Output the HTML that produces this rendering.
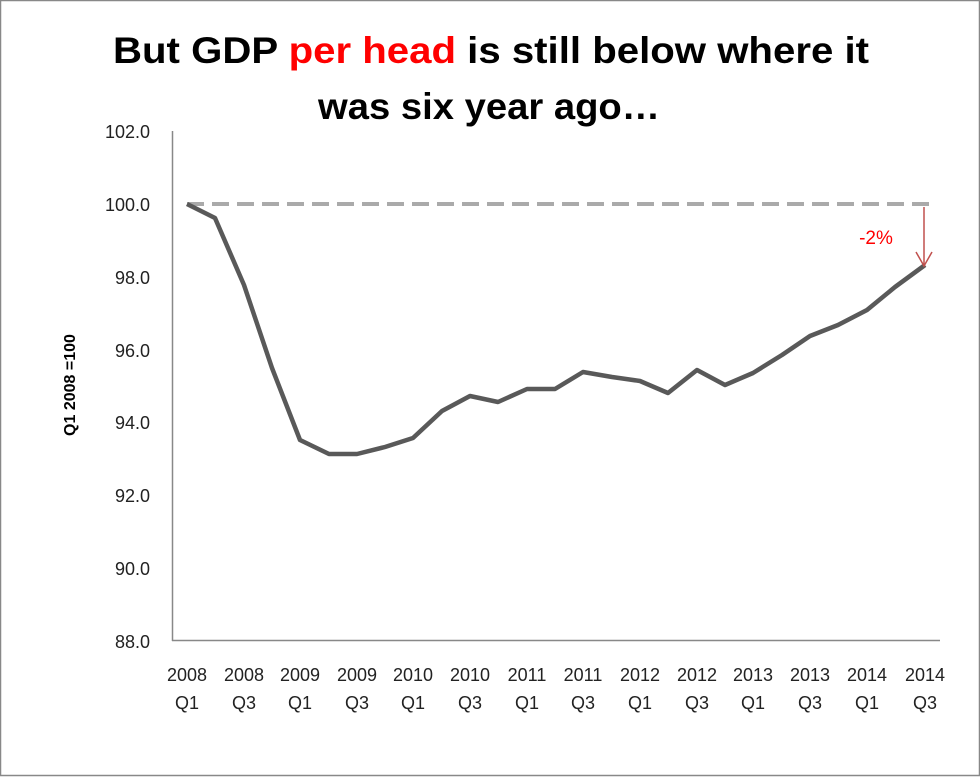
<!DOCTYPE html>
<html><head><meta charset="utf-8"><style>
body{margin:0;background:#fff;}
</style></head><body>
<svg width="980" height="777" xmlns="http://www.w3.org/2000/svg" style="display:block">
<rect x="0.5" y="0.5" width="979" height="775" fill="#fff" stroke="#888" stroke-width="1.5"/>
<g font-family="Liberation Sans, sans-serif" font-weight="bold" font-size="37" text-anchor="middle" fill="#000">
<text x="491" y="63" textLength="756" lengthAdjust="spacingAndGlyphs">But GDP <tspan fill="#ff0000">per head</tspan> is still below where it</text>
<text x="489" y="119" textLength="342" lengthAdjust="spacingAndGlyphs">was six year ago…</text>
</g>
<g font-family="Liberation Sans, sans-serif" font-size="18" text-anchor="end" fill="#222">
<text x="150" y="138">102.0</text>
<text x="150" y="211">100.0</text>
<text x="150" y="284">98.0</text>
<text x="150" y="357">96.0</text>
<text x="150" y="429">94.0</text>
<text x="150" y="502">92.0</text>
<text x="150" y="575">90.0</text>
<text x="150" y="648">88.0</text>
</g>
<text x="0" y="0" transform="translate(75,385) rotate(-90)" font-family="Liberation Sans, sans-serif" font-weight="bold" font-size="16" text-anchor="middle">Q1 2008 =100</text>
<line x1="172.5" y1="131" x2="172.5" y2="641" stroke="#888" stroke-width="1.5"/>
<line x1="172" y1="640.5" x2="940" y2="640.5" stroke="#888" stroke-width="1.5"/>
<g font-family="Liberation Sans, sans-serif" font-size="18" text-anchor="middle" fill="#222">
<text x="187" y="681">2008</text><text x="187" y="709">Q1</text>
<text x="244" y="681">2008</text><text x="244" y="709">Q3</text>
<text x="300" y="681">2009</text><text x="300" y="709">Q1</text>
<text x="357" y="681">2009</text><text x="357" y="709">Q3</text>
<text x="413" y="681">2010</text><text x="413" y="709">Q1</text>
<text x="470" y="681">2010</text><text x="470" y="709">Q3</text>
<text x="527" y="681">2011</text><text x="527" y="709">Q1</text>
<text x="583" y="681">2011</text><text x="583" y="709">Q3</text>
<text x="640" y="681">2012</text><text x="640" y="709">Q1</text>
<text x="697" y="681">2012</text><text x="697" y="709">Q3</text>
<text x="753" y="681">2013</text><text x="753" y="709">Q1</text>
<text x="810" y="681">2013</text><text x="810" y="709">Q3</text>
<text x="867" y="681">2014</text><text x="867" y="709">Q1</text>
<text x="925" y="681">2014</text><text x="925" y="709">Q3</text>
</g>
<line x1="187" y1="204" x2="930" y2="204" stroke="#aaa" stroke-width="4" stroke-dasharray="17,8"/>
<polyline fill="none" stroke="#595959" stroke-width="4.5" stroke-linejoin="round" points="187,204 215,218 244,285 272,368 300,440 329,454 357,454 385,447 413,438 442,411 470,396 498,402 527,389 555,389 583,372 612,377 640,381 668,393 697,370 725,385 753,373 782,355 810,336 838,325 867,310 895,287 925,265"/>
<line x1="924" y1="207" x2="924" y2="264" stroke="#c0504d" stroke-width="1.5"/>
<polyline points="916,252 924,266 932,252" fill="none" stroke="#c0504d" stroke-width="1.5"/>
<text x="876" y="244" font-family="Liberation Sans, sans-serif" font-size="19" fill="#ff0000" text-anchor="middle">-2%</text>
</svg>
</body></html>
